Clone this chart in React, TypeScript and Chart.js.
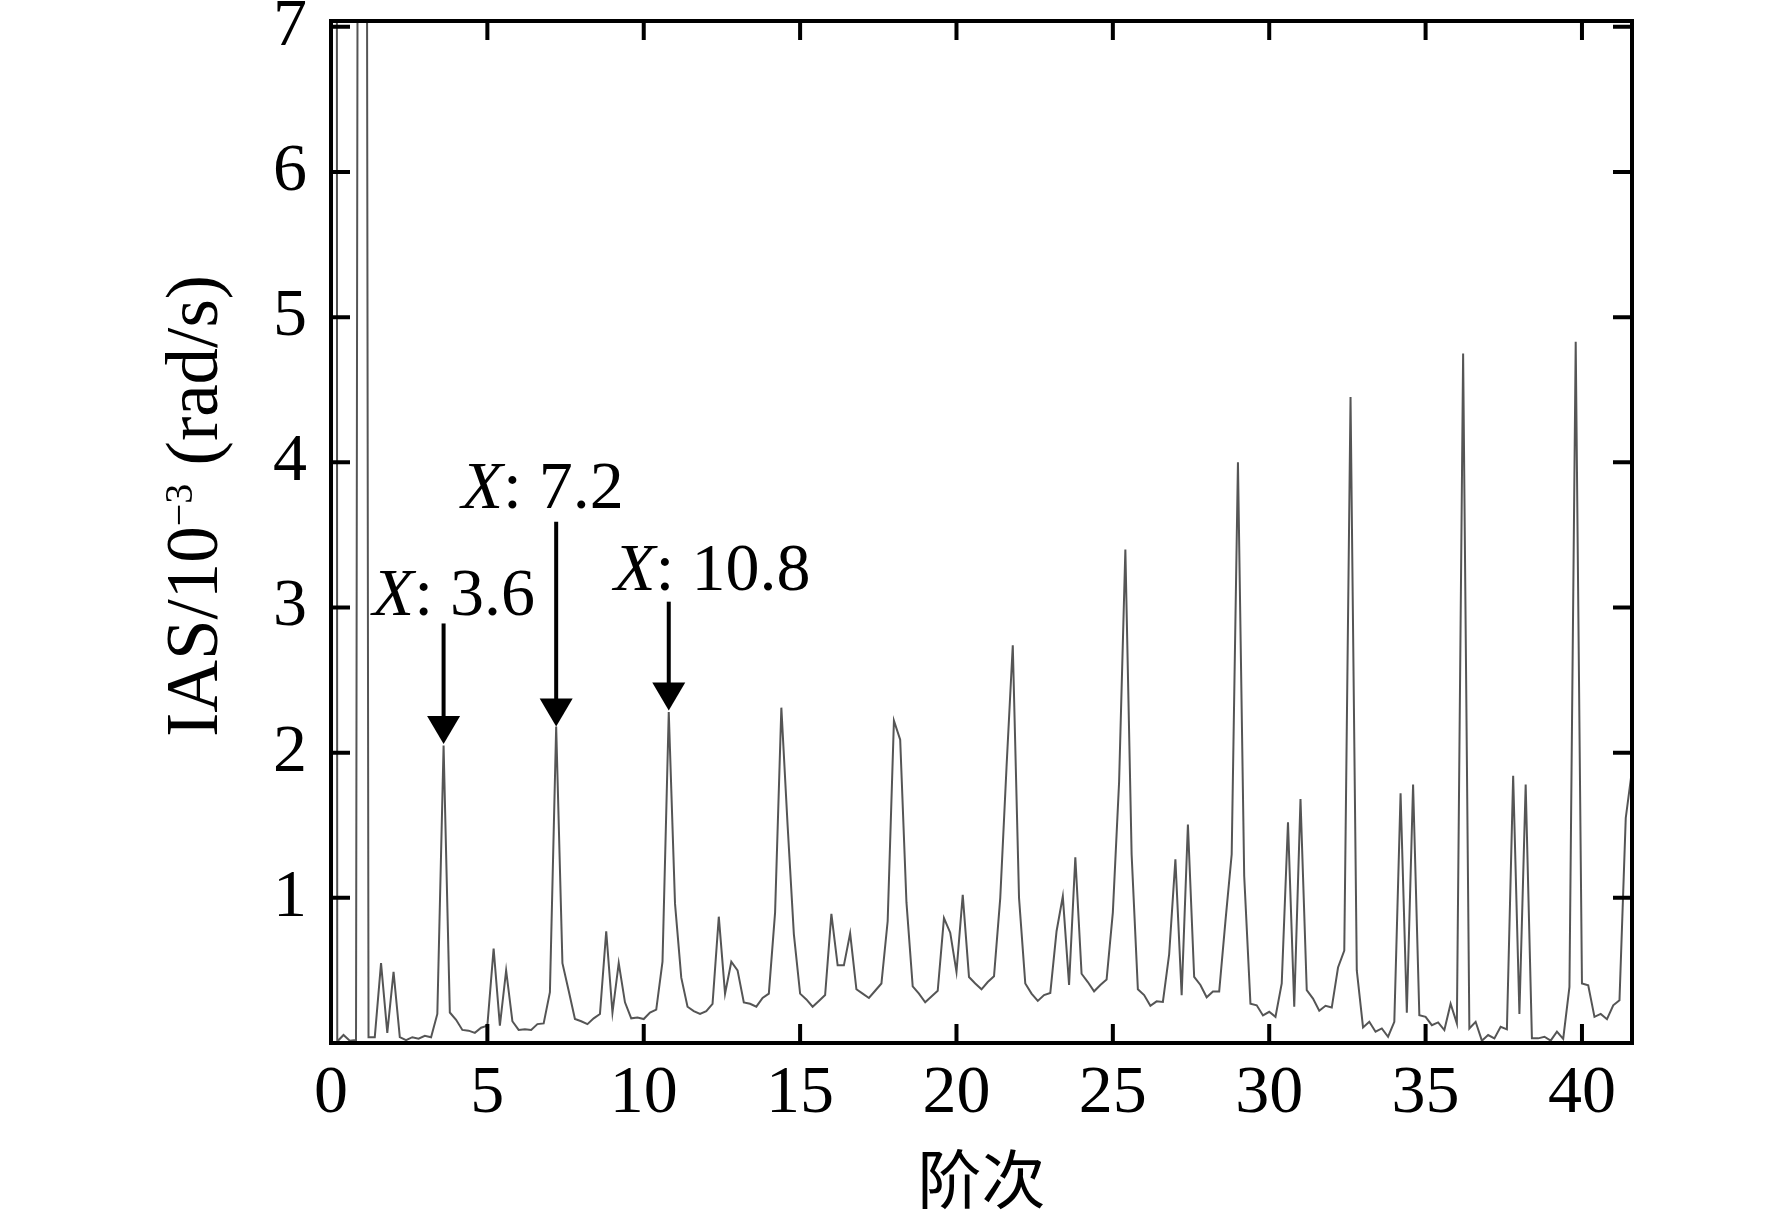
import React, { useEffect, useRef } from 'react'
import { Chart, registerables } from 'chart.js'

Chart.register(...registerables)

// order spectrum bins, 0.2 order apart, from order 0 to 41.6
const ORDER_STEP = 0.2
const ias = [
  120, 0.01, 0.055, 0.015, 0.02, 30, 0.04, 0.04, 0.55, 0.07,
  0.49, 0.04, 0.02, 0.04, 0.03, 0.05, 0.04, 0.2, 2.05, 0.21,
  0.16, 0.09, 0.085, 0.07, 0.105, 0.12, 0.65, 0.12, 0.5, 0.15,
  0.09, 0.095, 0.09, 0.13, 0.135, 0.35, 2.18, 0.55, 0.36, 0.165,
  0.15, 0.13, 0.17, 0.2, 0.77, 0.21, 0.55, 0.28, 0.17, 0.175,
  0.165, 0.21, 0.23, 0.56, 2.28, 0.96, 0.45, 0.25, 0.22, 0.2,
  0.22, 0.27, 0.87, 0.34, 0.56, 0.5, 0.28, 0.27, 0.25, 0.31,
  0.34, 0.9, 2.31, 1.5, 0.75, 0.34, 0.3, 0.25, 0.29, 0.33,
  0.89, 0.535, 0.535, 0.755, 0.37, 0.34, 0.31, 0.36, 0.41, 0.84,
  2.22, 2.09, 0.97, 0.39, 0.34, 0.28, 0.32, 0.36, 0.86, 0.76,
  0.49, 1.02, 0.455, 0.41, 0.37, 0.42, 0.46, 1.0, 1.9, 2.74,
  1.0, 0.41, 0.34, 0.29, 0.33, 0.345, 0.77, 1.01, 0.4, 1.28,
  0.477, 0.42, 0.356, 0.4, 0.437, 0.9, 1.8, 3.4, 1.3, 0.37,
  0.33, 0.256, 0.287, 0.283, 0.61, 1.265, 0.33, 1.505, 0.455, 0.4,
  0.315, 0.355, 0.355, 0.84, 1.3, 4.0, 1.15, 0.27, 0.26, 0.19,
  0.215, 0.18, 0.41, 1.52, 0.25, 1.68, 0.364, 0.306, 0.222, 0.256,
  0.244, 0.52, 0.637, 4.45, 0.5, 0.107, 0.146, 0.078, 0.1, 0.043,
  0.146, 1.72, 0.208, 1.78, 0.192, 0.18, 0.123, 0.142, 0.089, 0.27,
  0.135, 4.75, 0.1, 0.146, 0.016, 0.055, 0.032, 0.112, 0.094, 1.84,
  0.2, 1.78, 0.032, 0.032, 0.043, 0.016, 0.078, 0.028, 0.386, 4.83,
  0.41, 0.397, 0.18, 0.2, 0.164, 0.26, 0.295, 1.55, 1.88,
]

const xTicks = [0, 5, 10, 15, 20, 25, 30, 35, 40]
const yTicks = [1, 2, 3, 4, 5, 6, 7]

// data tips: arrow at the harmonic, label text next to it
const tipOrders = [3.6, 7.2, 10.8]
const tipLabels = ['3.6', '7.2', '10.8']
const tipFrom = [2.89, 3.59, 3.04]
const tipTo = [2.06, 2.18, 2.29]
const labelOrder = [1.33, 4.17, 9.05]
const labelLevel = [2.945, 3.685, 3.12]

const SERIF = '"Liberation Serif", "Times New Roman", serif'
const TICK = 19

const framePlugin = {
  id: 'frame',
  afterDatasetsDraw(chart: any) {
    const { ctx, chartArea: a, scales } = chart
    const xs = scales.x
    const ys = scales.y
    ctx.save()
    ctx.strokeStyle = '#000'
    ctx.fillStyle = '#000'
    ctx.lineWidth = 4
    ctx.strokeRect(a.left, a.top, a.right - a.left, a.bottom - a.top)

    ctx.beginPath()
    for (const t of xTicks) {
      const px = xs.getPixelForValue(t)
      ctx.moveTo(px, a.bottom)
      ctx.lineTo(px, a.bottom - TICK)
      ctx.moveTo(px, a.top)
      ctx.lineTo(px, a.top + TICK)
    }
    for (const t of yTicks) {
      const py = ys.getPixelForValue(t)
      ctx.moveTo(a.left, py)
      ctx.lineTo(a.left + TICK, py)
      ctx.moveTo(a.right, py)
      ctx.lineTo(a.right - TICK, py)
    }
    ctx.stroke()

    // arrows + labels
    tipOrders.forEach((o, i) => {
      const px = xs.getPixelForValue(o)
      const y0 = ys.getPixelForValue(tipFrom[i])
      const y1 = ys.getPixelForValue(tipTo[i])
      ctx.beginPath()
      ctx.moveTo(px, y0)
      ctx.lineTo(px, y1 - 24)
      ctx.stroke()
      ctx.beginPath()
      ctx.moveTo(px - 16.5, y1 - 28)
      ctx.lineTo(px + 16.5, y1 - 28)
      ctx.lineTo(px, y1)
      ctx.closePath()
      ctx.fill()

      const lx = xs.getPixelForValue(labelOrder[i])
      const ly = ys.getPixelForValue(labelLevel[i])
      ctx.textBaseline = 'alphabetic'
      ctx.textAlign = 'left'
      ctx.font = `italic 68px ${SERIF}`
      ctx.fillText('X', lx, ly)
      const w = ctx.measureText('X').width
      ctx.font = `68px ${SERIF}`
      ctx.fillText(': ' + tipLabels[i], lx + w, ly)
    })

    // y title, rotated, with superscript exponent
    const parts: [string, number, number][] = [
      ['IAS/10', 73, 0],
      ['\u22123', 40, -25],
      [' (rad/s)', 73, 0],
    ]
    let total = 0
    for (const [s, size] of parts) {
      ctx.font = `${size}px ${SERIF}`
      total += ctx.measureText(s).width
    }
    ctx.save()
    ctx.translate(217, 506)
    ctx.rotate(-Math.PI / 2)
    let cx = -total / 2
    for (const [s, size, dy] of parts) {
      ctx.font = `${size}px ${SERIF}`
      ctx.fillText(s, cx, dy)
      cx += ctx.measureText(s).width
    }
    ctx.restore()

    // x title
    ctx.font = '64px "Noto Sans CJK SC", sans-serif'
    ctx.textAlign = 'center'
    ctx.textBaseline = 'middle'
    ctx.fillText('阶次', (a.left + a.right) / 2, 1179)
    ctx.restore()
  },
}

export default function App() {
  const canvasRef = useRef<HTMLCanvasElement>(null)

  useEffect(() => {
    if (!canvasRef.current) return
    const points = ias.map((v, i) => ({ x: +(i * ORDER_STEP).toFixed(1), y: v }))
    const tickFont = { family: SERIF, size: 68 }
    const chart = new Chart(canvasRef.current, {
      type: 'line',
      data: {
        datasets: [
          {
            data: points,
            borderColor: '#555555',
            borderWidth: 2,
            pointRadius: 0,
            tension: 0,
            fill: false,
          },
        ],
      },
      options: {
        responsive: false,
        animation: false,
        devicePixelRatio: 1,
        layout: { padding: { left: 0, top: 21, right: 140, bottom: 0 } },
        plugins: { legend: { display: false }, tooltip: { enabled: false } },
        scales: {
          x: {
            type: 'linear',
            min: 0,
            max: 41.6,
            grid: { display: false, drawTicks: false },
            border: { display: false },
            ticks: { font: tickFont, color: '#000', padding: 10, maxRotation: 0, autoSkip: false },
            afterBuildTicks: (s: any) => { s.ticks = xTicks.map(v => ({ value: v })) },
            afterFit: (s: any) => { s.height = 178; s.paddingLeft = 0; s.paddingRight = 0 },
          },
          y: {
            type: 'linear',
            min: 0,
            max: 7.04,
            grid: { display: false, drawTicks: false },
            border: { display: false },
            ticks: { font: tickFont, color: '#000', padding: 24, autoSkip: false },
            afterBuildTicks: (s: any) => { s.ticks = yTicks.map(v => ({ value: v })) },
            afterFit: (s: any) => { s.width = 331; s.paddingTop = 0; s.paddingBottom = 0 },
          },
        },
      } as any,
      plugins: [framePlugin],
    })
    return () => chart.destroy()
  }, [])

  return (
    <div style={{ position: 'absolute', left: 0, top: 0, width: 1772, height: 1221, background: '#fff' }}>
      <canvas ref={canvasRef} width={1772} height={1221} />
    </div>
  )
}
